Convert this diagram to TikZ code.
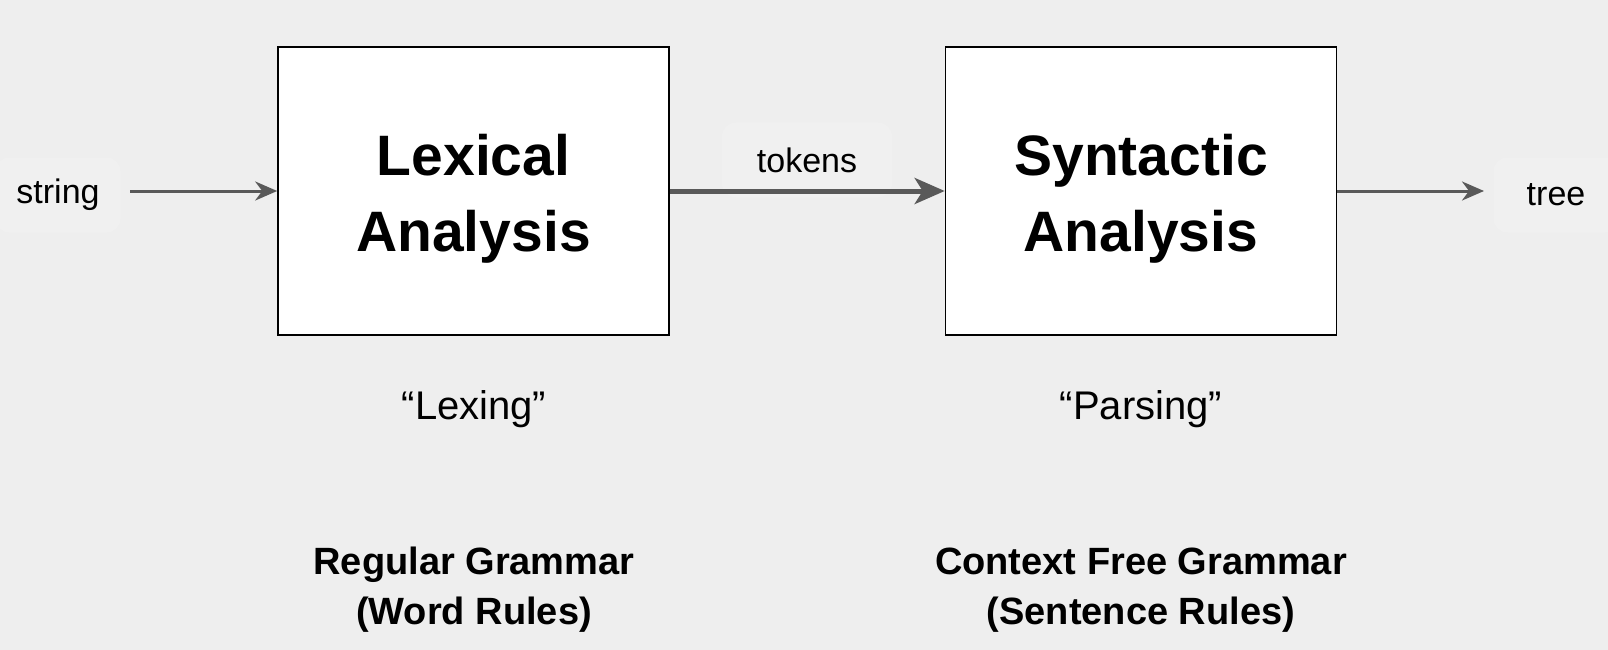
\documentclass[tikz,border=0pt]{standalone}
\usepackage{fontspec}
\setmainfont{Liberation Sans}
\usetikzlibrary{arrows.meta}
\definecolor{bgc}{HTML}{EEEEEE}
\definecolor{lblbg}{HTML}{F0F0F0}
\definecolor{arr}{HTML}{595959}
\tikzset{
  procbox/.style={draw=black, line width=1.6pt, fill=white, minimum width=391pt, minimum height=288pt, inner sep=0pt},
  boxtext/.style={font=\fontsize{57}{76}\selectfont\bfseries, align=center, yshift=-8pt},
  lbl/.style={fill=lblbg, rounded corners=14pt, inner xsep=14pt, inner ysep=14pt, font=\fontsize{34}{40}\selectfont},
  quote/.style={font=\fontsize{40}{48}\selectfont},
  gram/.style={font=\fontsize{38}{50}\selectfont\bfseries, align=center},
  thinarr/.style={draw=arr, line width=3pt, -{Stealth[length=22pt,width=19pt,inset=7pt]}},
  thickarr/.style={draw=arr, line width=5pt, -{Stealth[length=30pt,width=26pt,inset=8pt]}}
}
\begin{document}
\begin{tikzpicture}[x=1pt,y=-1pt]
\fill[bgc] (0,0) rectangle (1608,650);
\useasboundingbox (0,0) rectangle (1608,650);
\node[procbox, label={[boxtext]center:Lexical\\Analysis}] (lex) at (473.5,191) {};
\node[procbox, label={[boxtext]center:Syntactic\\Analysis}] (syn) at (1141,191) {};
\node[lbl, minimum width=125pt, minimum height=75pt] (str) at (58,195) {string};
\node[lbl, minimum width=170pt, minimum height=75pt] (tok) at (807,160) {tokens};
\node[lbl, minimum width=125pt, minimum height=75pt] (tree) at (1556,195) {tree};
\coordinate (sin) at (130,191);
\coordinate (tout) at (1484,191);
\draw[thinarr] (sin) -- (lex.west);
\draw[thickarr] (lex.east) -- (syn.west);
\draw[thinarr] (syn.east) -- (tout);
\node[quote] (lexing) at (474,409) {“Lexing”};
\node[quote] (parsing) at (1141,409) {“Parsing”};
\node[gram] (rg) at (474,590) {Regular Grammar\\(Word Rules)};
\node[gram] (cfg) at (1141,590) {Context Free Grammar\\(Sentence Rules)};
\end{tikzpicture}
\end{document}
